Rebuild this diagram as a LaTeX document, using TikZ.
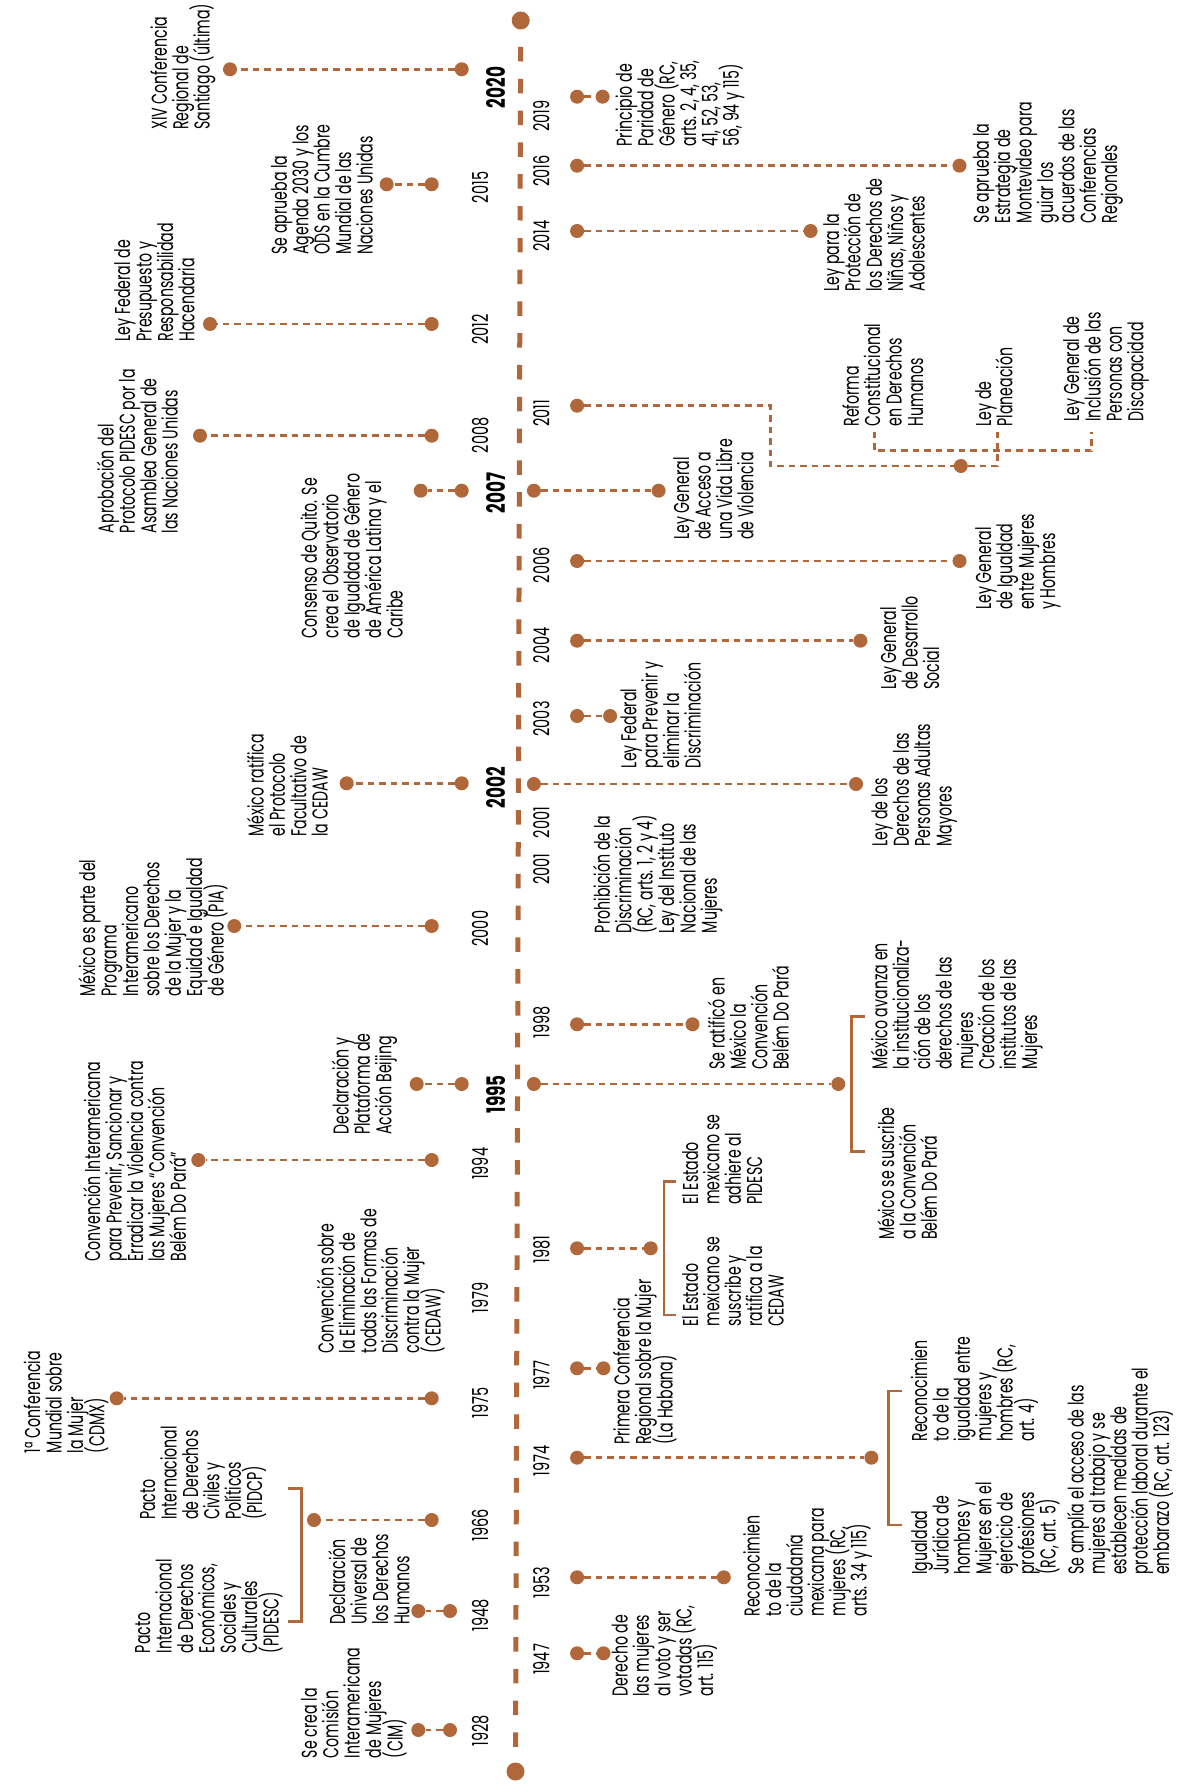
\documentclass[tikz,border=0pt]{standalone}
\usepackage{fontspec}
\setmainfont{Poppins}[FakeStretch=0.66]
\definecolor{tl}{RGB}{176,104,58}
\newcommand\lblfont{\fontsize{21.5}{21.4}\selectfont\lineskiplimit=-100pt\lineskip=0pt}
\newcommand\yrfont{\fontsize{22}{22}\selectfont}
\newcommand\yrbfont{\fontsize{25.5}{25.5}\selectfont\bfseries}
% label: name, x of cap top of first line, y of text start, text
\newcommand\lab[4]{\node[lbl] (#1) at ({#2-3},#3) {\rule{0pt}{18pt}#4};}
\begin{document}
\begin{tikzpicture}[x=1pt,y=-1pt,
  lbl/.style={rotate=90,anchor=north west,inner sep=0pt,align=left,font=\lblfont,text=black},
  yr/.style={rotate=90,anchor=north west,inner sep=0pt,font=\yrfont,text=black},
  yrb/.style={rotate=90,anchor=north west,inner sep=0pt,font=\yrbfont,text=black},
  ball/.style={circle,fill=tl,inner sep=0pt,minimum size=14pt},
  bigball/.style={circle,fill=tl,inner sep=0pt,minimum size=18pt},
  conn/.style={draw=tl,line width=2.6pt,dash pattern=on 6.5pt off 5pt},
  brk/.style={draw=tl,line width=2.5pt},
  axisline/.style={draw=tl,line width=5pt,dash pattern=on 14.5pt off 17.3pt,dash phase=14.5pt}]
\useasboundingbox[fill=white] (0,0) rectangle (1189,1787);

% axis
\node[bigball] (top) at (520.7,20.5) {};
\node[bigball] (bot) at (515.5,1771.5) {};
\draw[axisline] (top) -- (bot);

% ---------------- left side ----------------
\node[yrb] (y2020) at (486.7,108.3) {2020};
\node[ball] (a2020) at (461.7,69.3) {};
\node[ball] (b2020) at (230,69.3) {};
\draw[conn] (a2020) -- (b2020);
\lab{t2020}{151.7}{130}{XIV Conferencia\\Regional de\\Santiago (última)}

\node[yr] (y2015) at (471.7,203.3) {2015};
\node[ball] (a2015) at (431.7,184.3) {};
\node[ball] (b2015) at (386.7,184.3) {};
\draw[conn] (a2015) -- (b2015);
\lab{t2015}{271.7}{255}{Se aprueba la\\Agenda 2030 y los\\ODS en la Cumbre\\Mundial de las\\Naciones Unidas}

\node[yr] (y2012) at (471.7,345) {2012};
\node[ball] (a2012) at (431.7,324) {};
\node[ball] (b2012) at (210,324) {};
\draw[conn] (a2012) -- (b2012);
\lab{t2012}{115}{341.7}{Ley Federal de\\Presupuesto y\\Responsabilidad\\Hacendaria}

\node[yr] (y2008) at (471.7,453.3) {2008};
\node[ball] (a2008) at (431.7,435.7) {};
\node[ball] (b2008) at (200,435.7) {};
\draw[conn] (a2008) -- (b2008);
\lab{t2008}{98.3}{533.3}{Aprobación del\\Protocolo PIDESC por la\\Asamblea General de\\las Naciones Unidas}

\node[yrb] (y2007) at (486.7,513.3) {2007};
\node[ball] (a2007) at (461.7,490.7) {};
\node[ball] (b2007) at (420.7,490.7) {};
\draw[conn] (a2007) -- (b2007);
\lab{t2007}{301.7}{638.3}{Consenso de Quito. Se\\crea el Observatorio\\de Igualdad de Género\\de América Latina y el\\Caribe}

\node[yrb] (y2002) at (486.7,808.3) {2002};
\node[ball] (a2002) at (461.7,783.3) {};
\node[ball] (b2002) at (346.7,783.3) {};
\draw[conn] (a2002) -- (b2002);
\lab{t2002}{248.3}{836.7}{México ratifica\\el Protocolo\\Facultativo de\\la CEDAW}

\node[yr] (y2000) at (471.7,946.7) {2000};
\node[ball] (a2000) at (431.7,926) {};
\node[ball] (b2000) at (234.3,926) {};
\draw[conn] (a2000) -- (b2000);
\lab{t2000}{80}{996.7}{México es parte del\\Programa\\Interamericano\\sobre los Derechos\\de la Mujer y la\\Equidad e Igualdad\\de Género (PIA)}

\node[yrb] (y1995) at (486.7,1113.3) {1995};
\node[ball] (a1995) at (461.7,1084) {};
\node[ball] (b1995) at (416.7,1084) {};
\draw[conn] (a1995) -- (b1995);
\lab{t1995}{333.3}{1135}{Declaración y\\Plataforma de\\Acción Beijing}

\node[yr] (y1994) at (471.7,1180) {1994};
\node[ball] (a1994) at (431.7,1160) {};
\node[ball] (b1994) at (198.3,1160) {};
\draw[conn] (a1994) -- (b1994);
\lab{t1994}{85}{1261.7}{Convención Interamericana\\para Prevenir, Sancionar y\\Erradicar la Violencia contra\\las Mujeres “Convención\\Belém Do Pará”}

\node[yr] (y1979) at (471.7,1313.3) {1979};
\lab{t1979}{318.3}{1353.3}{Convención sobre\\la Eliminación de\\todas las Formas de\\Discriminación\\contra la Mujer\\(CEDAW)}

\node[yr] (y1975) at (471.7,1418.3) {1975};
\node[ball] (a1975) at (431.7,1398.3) {};
\node[ball] (b1975) at (116.7,1398.3) {};
\draw[conn] (a1975) -- (b1975);
\lab{t1975}{25}{1453.3}{1ª Conferencia\\Mundial sobre\\la Mujer\\(CDMX)}

\node[yr] (y1966) at (471.7,1541.7) {1966};
\node[ball] (a1966) at (431.7,1520) {};
\node[ball] (b1966) at (314,1520) {};
\draw[conn] (a1966) -- (b1966);
\coordinate (k1966a) at (288.3,1488.3);
\coordinate (k1966b) at (301.7,1488.3);
\coordinate (k1966c) at (301.7,1621.7);
\coordinate (k1966d) at (288.3,1621.7);
\draw[brk] (k1966a) -- (k1966b) -- (k1966c) -- (k1966d);
\lab{t1966a}{140}{1520}{Pacto\\Internacional\\de Derechos\\Civiles y\\Políticos\\(PIDCP)}
\lab{t1966b}{135}{1653.3}{Pacto\\Internacional\\de Derechos\\Económicos,\\Sociales y\\Culturales\\(PIDESC)}

\node[yr] (y1948) at (471.7,1631.7) {1948};
\node[ball] (a1948) at (450,1611) {};
\node[ball] (b1948) at (418.3,1611) {};
\draw[conn] (a1948) -- (b1948);
\lab{t1948}{330}{1625}{Declaración\\Universal de\\los Derechos\\Humanos}

\node[yr] (y1928) at (471.7,1746.7) {1928};
\node[ball] (a1928) at (450,1730) {};
\node[ball] (b1928) at (418.3,1730) {};
\draw[conn] (a1928) -- (b1928);
\lab{t1928}{301.7}{1758.3}{Se crea la\\Comisión\\Interamericana\\de Mujeres\\(CIM)}

% ---------------- right side ----------------
\node[yr] (y2019) at (533,131.7) {2019};
\node[ball] (a2019) at (577.1,96.7) {};
\node[ball] (b2019) at (602.6,96.7) {};
\draw[conn] (a2019) -- (b2019);
\lab{t2019}{616.7}{146.7}{Principio de\\Paridad de\\Género (RC,\\arts. 2, 4, 35,\\41, 52, 53,\\56, 94 y 115)}

\node[yr] (y2016) at (533,186.7) {2016};
\node[ball] (a2016) at (577.1,165.7) {};
\node[ball] (b2016) at (959.5,165.7) {};
\draw[conn] (a2016) -- (b2016);
\lab{t2016}{973.6}{223.3}{Se aprueba la\\Estrategia de\\Montevideo para\\guiar los\\acuerdos de las\\Conferencias\\Regionales}

\node[yr] (y2014) at (533,251.7) {2014};
\node[ball] (a2014) at (577.1,231) {};
\node[ball] (b2014) at (810.6,231) {};
\draw[conn] (a2014) -- (b2014);
\lab{t2014}{823.8}{291.7}{Ley para la\\Protección de\\los Derechos de\\Niñas, Niños y\\Adolescentes}

\node[yr] (y2011) at (533,426.7) {2011};
\node[ball] (a2011) at (577.1,405.7) {};
\node[ball] (b2011) at (960.8,466) {};
\coordinate (c2011a) at (770.5,405.7);
\coordinate (c2011b) at (770.5,466);
\coordinate (c2011c) at (997.3,466);
\coordinate (c2011d) at (997.3,431.7);
\coordinate (c2011e) at (874.2,431.7);
\coordinate (c2011f) at (874.2,450.7);
\coordinate (c2011g) at (1091.6,450.7);
\coordinate (c2011h) at (1091.6,431.7);
\draw[conn] (a2011) -- (c2011a) -- (c2011b) -- (b2011);
\draw[conn] (b2011) -- (c2011c) -- (c2011d);
\draw[conn] (c2011e) -- (c2011f) -- (c2011g) -- (c2011h);
\lab{t2011a}{843.6}{426.7}{Reforma\\Constitucional\\en Derechos\\Humanos}
\lab{t2011b}{975.8}{426.7}{Ley de\\Planeación}
\lab{t2011c}{1063.9}{421.7}{Ley General de\\Inclusión de las\\Personas con\\Discapacidad}

\node[ball] (r2007a) at (533.9,490.7) {};
\node[ball] (r2007b) at (658.6,490.7) {};
\draw[conn] (r2007a) -- (r2007b);
\lab{r2007t}{674}{540}{Ley General\\de Acceso a\\una Vida Libre\\de Violencia}

\node[yr] (y2006) at (533,583.3) {2006};
\node[ball] (a2006) at (577.1,561) {};
\node[ball] (b2006) at (959.5,561) {};
\draw[conn] (a2006) -- (b2006);
\lab{t2006}{975.8}{610}{Ley General\\de Igualdad\\entre Mujeres\\y Hombres}

\node[yr] (y2004) at (533,663.3) {2004};
\node[ball] (a2004) at (577.1,640.7) {};
\node[ball] (b2004) at (860.4,640.7) {};
\draw[conn] (a2004) -- (b2004);
\lab{t2004}{881}{690}{Ley General\\de Desarrollo\\Social}

\node[yr] (y2003) at (533,736.7) {2003};
\node[ball] (a2003) at (577.1,716) {};
\node[ball] (b2003) at (610.1,716) {};
\draw[conn] (a2003) -- (b2003);
\lab{t2003}{621.1}{768.3}{Ley Federal\\para Prevenir y\\eliminar la\\Discriminación}

\node[ball] (r2002a) at (533.9,784) {};
\node[ball] (r2002b) at (856,784) {};
\draw[conn] (r2002a) -- (r2002b);
\lab{r2002t}{872.2}{846.7}{Ley de los\\Derechos de las\\Personas Adultas\\Mayores}

\node[yr] (y2001a) at (533,838.3) {2001};
\node[yr] (y2001b) at (533,885) {2001};
\lab{t2001}{594.7}{933.3}{Prohibición de la\\Discriminación\\(RC, arts. 1, 2 y 4)\\Ley del Instituto\\Nacional de las\\Mujeres}

\node[yr] (y1998) at (533,1038.3) {1998};
\node[ball] (a1998) at (577.1,1024.3) {};
\node[ball] (b1998) at (692.5,1024.3) {};
\draw[conn] (a1998) -- (b1998);
\lab{t1998}{709.3}{1070}{Se ratificó en\\México la\\Convención\\Belém Do Pará}

\node[ball] (r1995a) at (533.9,1084) {};
\node[ball] (r1995b) at (838.3,1084) {};
\draw[conn] (r1995a) -- (r1995b);
\coordinate (k1995a) at (864.8,1016.7);
\coordinate (k1995b) at (851.5,1016.7);
\coordinate (k1995c) at (851.5,1151.7);
\coordinate (k1995d) at (864.8,1151.7);
\draw[brk] (k1995a) -- (k1995b) -- (k1995c) -- (k1995d);
\lab{r1995t1}{872.2}{1070}{México avanza en\\la institucionaliza-\\ción de los\\derechos de las\\mujeres\\Creación de los\\institutos de las\\Mujeres}
\lab{r1995t2}{878.9}{1240}{México se suscribe\\a la Convención\\Belém Do Pará}

\node[yr] (y1981) at (533,1263.3) {1981};
\node[ball] (a1981) at (577.1,1248.3) {};
\node[ball] (b1981) at (650.7,1248.3) {};
\draw[conn] (a1981) -- (b1981);
\coordinate (k1981a) at (676.2,1181.7);
\coordinate (k1981b) at (663.9,1181.7);
\coordinate (k1981c) at (663.9,1315);
\coordinate (k1981d) at (676.2,1315);
\draw[brk] (k1981a) -- (k1981b) -- (k1981c) -- (k1981d);
\lab{t1981a}{682.8}{1205}{El Estado\\mexicano se\\adhiere al\\PIDESC}
\lab{t1981b}{682.8}{1326.7}{El Estado\\mexicano se\\suscribe y\\ratifica a la\\CEDAW}

\node[yr] (y1977) at (533,1390) {1977};
\node[ball] (a1977) at (577.1,1368.3) {};
\node[ball] (b1977) at (603.5,1368.3) {};
\draw[conn] (a1977) -- (b1977);
\lab{t1977}{614.5}{1445}{Primera Conferencia\\Regional sobre la Mujer\\(La Habana)}

\node[yr] (y1974) at (533,1476.7) {1974};
\node[ball] (a1974) at (577.1,1457.7) {};
\node[ball] (b1974) at (871.4,1457.7) {};
\draw[conn] (a1974) -- (b1974);
\coordinate (k1974a) at (901.8,1391);
\coordinate (k1974b) at (888.5,1391);
\coordinate (k1974c) at (888.5,1525);
\coordinate (k1974d) at (901.8,1525);
\draw[brk] (k1974a) -- (k1974b) -- (k1974c) -- (k1974d);
\lab{t1974a}{911.9}{1441.7}{Reconocimien\\to de la\\igualdad entre\\mujeres y\\hombres (RC,\\art. 4)}
\lab{t1974b}{911.9}{1575}{Igualdad\\Jurídica de\\hombres y\\Mujeres en el\\ejercicio de\\profesiones\\(RC, art. 5)}
\lab{t1974c}{1068.3}{1575}{Se amplía el acceso de las\\mujeres al trabajo y se\\establecen medidas de\\protección laboral durante el\\embarazo (RC, art. 123)}

\node[yr] (y1953) at (533,1598.3) {1953};
\node[ball] (a1953) at (577.1,1577.3) {};
\node[ball] (b1953) at (723.8,1577.3) {};
\draw[conn] (a1953) -- (b1953);
\lab{t1953}{744.5}{1616.7}{Reconocimien\\to de la\\ciudadanía\\mexicana para\\mujeres (RC,\\arts. 34 y 115)}

\node[yr] (y1947) at (533,1675) {1947};
\node[ball] (a1947) at (577.1,1653.3) {};
\node[ball] (b1947) at (603.5,1653.3) {};
\draw[conn] (a1947) -- (b1947);
\lab{t1947}{612.3}{1696.7}{Derecho de\\las mujeres\\al voto y ser\\votadas (RC,\\art. 115)}
\end{tikzpicture}
\end{document}
